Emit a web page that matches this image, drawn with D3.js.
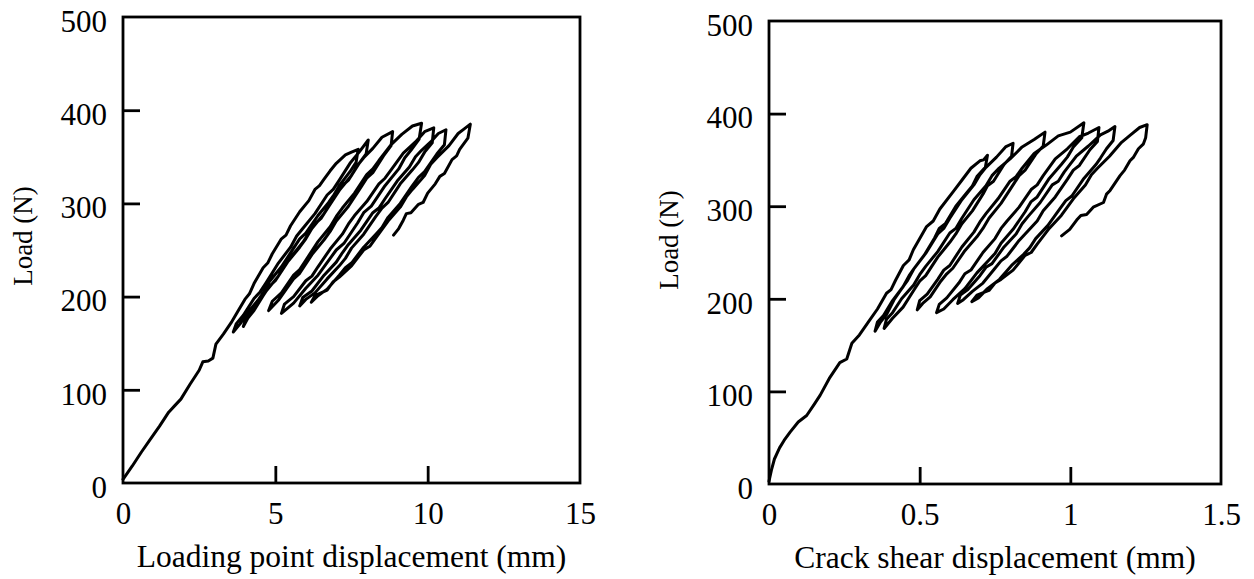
<!DOCTYPE html>
<html>
<head>
<meta charset="utf-8">
<script src="https://cdn.jsdelivr.net/npm/d3@7"></script>
<style>
  html, body { margin: 0; padding: 0; background: #fff; }
  svg { display: block; }
  text { font-family: "Liberation Serif", "Times New Roman", serif; fill: #000; }
</style>
</head>
<body>
<svg id="chart" width="1254" height="579"></svg>
<script>
// ---------------- DATA ----------------
// Tick labels
const loadTicks = [0, 100, 200, 300, 400, 500];
const lpdTicks = [0, 5, 10, 15];
const csdTicks = [0, 0.5, 1, 1.5];
const csdTickLabels = ["0", "0.5", "1", "1.5"];

// Left panel: Load (N) vs loading point displacement (mm), branch by branch
const lpdInitial = [[0,4],[0.3,18],[0.6,33],[0.9,47],[1.2,61],[1.5,76],[1.7,83],[1.9,90],[2.2,106],[2.5,121],[2.62,130],[2.8,131],[2.95,134],[3.05,149],[3.3,160],[3.55,172],[3.8,186],[4.0,197],[4.15,203],[4.3,214],[4.6,231],[4.75,236],[4.9,246],[5.2,262],[5.35,266],[5.5,276],[5.8,291],[6.1,303],[6.3,315],[6.45,319],[6.6,326],[6.8,335],[7.0,343],[7.3,352],[7.5,355],[7.72,358]];
const lpdUnload1 = [[7.72,358],[7.65,344],[7.45,334],[7.1,319],[6.9,308],[6.75,301],[6.4,287],[6.0,268],[5.8,262],[5.6,252],[5.2,232],[4.8,216],[4.6,204],[4.45,197],[4.1,183],[3.85,171],[3.62,162]];
const lpdLoad2 = [[3.62,162],[3.72,171],[3.95,180],[4.3,198],[4.5,205],[4.7,215],[5.1,236],[5.5,253],[5.7,265],[5.9,273],[6.3,289],[6.7,309],[6.9,315],[7.1,325],[7.45,343],[7.75,355],[8.05,368]];
const lpdUnload2 = [[8.05,368],[7.98,353],[7.75,343],[7.4,325],[7.2,319],[7.0,309],[6.6,289],[6.2,273],[6.0,262],[5.8,253],[5.4,237],[5.0,217],[4.8,211],[4.6,201],[4.3,185],[4.1,177],[3.95,168]];
const lpdLoad3 = [[3.95,168],[4.05,178],[4.3,187],[4.7,206],[5.1,222],[5.3,234],[5.5,242],[5.9,258],[6.3,278],[6.5,284],[6.7,294],[7.1,314],[7.5,330],[7.7,341],[7.9,349],[8.2,359],[8.5,371],[8.85,377]];
const lpdUnload3 = [[8.85,377],[8.8,362],[8.55,351],[8.2,333],[8.0,327],[7.8,317],[7.4,297],[7.0,281],[6.8,270],[6.6,261],[6.2,245],[5.8,225],[5.6,219],[5.4,210],[5.1,196],[4.78,185]];
const lpdLoad4 = [[4.78,185],[4.9,195],[5.2,204],[5.6,223],[5.8,229],[6.0,239],[6.4,259],[6.8,275],[7.0,286],[7.2,295],[7.6,311],[8.0,331],[8.2,337],[8.4,346],[8.8,363],[9.15,374],[9.5,383],[9.8,386]];
const lpdUnload4 = [[9.8,386],[9.72,369],[9.45,357],[9.25,349],[9.05,337],[8.6,319],[8.15,297],[7.9,290],[7.7,279],[7.25,257],[7.0,250],[6.8,241],[6.4,223],[6.0,209],[5.6,193],[5.2,182]];
const lpdLoad5 = [[5.2,182],[5.3,192],[5.6,200],[6.0,217],[6.2,222],[6.4,232],[6.8,251],[7.2,267],[7.4,278],[7.6,287],[8.0,302],[8.4,321],[8.6,327],[8.8,336],[9.2,354],[9.6,366],[9.9,377],[10.2,381]];
const lpdUnload5 = [[10.2,381],[10.15,365],[9.9,355],[9.7,344],[9.5,336],[9.1,321],[8.7,301],[8.5,295],[8.3,286],[7.9,267],[7.5,252],[7.3,241],[7.1,233],[6.7,219],[6.3,204],[6.0,197],[5.8,190]];
const lpdLoad6 = [[5.8,190],[5.9,199],[6.2,206],[6.6,223],[7.0,237],[7.2,247],[7.4,256],[7.8,271],[8.2,290],[8.4,295],[8.6,305],[9.0,324],[9.4,339],[9.6,350],[9.8,357],[10.1,366],[10.35,375],[10.6,379]];
const lpdUnload6 = [[10.6,379],[10.55,363],[10.3,353],[9.9,334],[9.7,328],[9.5,319],[9.1,300],[8.7,285],[8.5,274],[8.3,267],[7.9,253],[7.5,236],[7.3,231],[7.1,223],[6.7,208],[6.4,201],[6.18,194]];
const lpdLoad7 = [[6.18,194],[6.3,201],[6.7,207],[6.9,216],[7.1,221],[7.5,233],[7.9,250],[8.1,254],[8.3,263],[8.7,281],[9.1,296],[9.3,307],[9.5,315],[9.9,330],[10.1,342],[10.3,349],[10.7,362],[11.0,375],[11.2,380],[11.4,385]];
const lpdUnload7 = [[11.4,385],[11.32,370],[11.05,358],[10.95,351],[10.8,347],[10.55,332],[10.4,329],[10.25,321],[10.0,311],[9.85,301],[9.7,299],[9.45,290],[9.3,289],[9.2,282],[9.05,273],[8.88,266]];

// Right panel: Load (N) vs crack shear displacement (mm)
const csdInitial = [[0,3],[0.008,15],[0.018,27],[0.035,39],[0.05,47],[0.07,56],[0.097,67],[0.125,74],[0.15,86],[0.17,96],[0.2,114],[0.235,131],[0.258,135],[0.275,152],[0.3,161],[0.33,175],[0.36,189],[0.39,206],[0.405,210],[0.42,220],[0.446,236],[0.465,242],[0.479,253],[0.523,278],[0.545,284],[0.567,297],[0.612,316],[0.64,328],[0.67,341],[0.7,349],[0.712,350],[0.725,355]];
const csdUnload1 = [[0.725,355],[0.718,342],[0.69,332],[0.675,322],[0.655,314],[0.62,300],[0.585,281],[0.565,276],[0.55,266],[0.515,247],[0.48,232],[0.46,220],[0.445,213],[0.415,199],[0.39,183],[0.37,175],[0.352,165]];
const csdLoad2 = [[0.352,165],[0.36,175],[0.38,182],[0.41,198],[0.445,213],[0.465,225],[0.48,232],[0.52,249],[0.56,270],[0.58,276],[0.6,287],[0.64,307],[0.68,323],[0.7,334],[0.72,342],[0.755,353],[0.785,364],[0.81,368]];
const csdUnload2 = [[0.81,368],[0.805,354],[0.78,345],[0.745,327],[0.725,322],[0.71,313],[0.675,295],[0.64,281],[0.62,270],[0.6,261],[0.56,245],[0.52,225],[0.5,219],[0.48,209],[0.445,191],[0.41,179],[0.382,168]];
const csdLoad3 = [[0.382,168],[0.39,178],[0.41,185],[0.44,200],[0.48,215],[0.5,226],[0.52,235],[0.56,251],[0.6,271],[0.62,276],[0.64,287],[0.68,307],[0.72,322],[0.74,333],[0.76,340],[0.8,351],[0.84,364],[0.88,372],[0.916,380]];
const csdUnload3 = [[0.916,380],[0.91,365],[0.885,356],[0.85,339],[0.83,333],[0.81,323],[0.77,303],[0.73,287],[0.71,276],[0.69,267],[0.65,252],[0.61,233],[0.59,227],[0.57,219],[0.535,202],[0.51,195],[0.492,188]];
const csdLoad4 = [[0.492,188],[0.5,198],[0.525,205],[0.56,221],[0.58,231],[0.6,236],[0.64,256],[0.68,272],[0.7,283],[0.72,292],[0.76,308],[0.8,327],[0.82,332],[0.84,341],[0.88,357],[0.92,366],[0.96,376],[1.0,380],[1.045,390]];
const csdUnload4 = [[1.045,390],[1.038,374],[1.01,364],[0.99,353],[0.97,345],[0.93,330],[0.89,310],[0.87,305],[0.85,294],[0.81,275],[0.77,260],[0.75,249],[0.73,242],[0.69,228],[0.65,211],[0.61,199],[0.58,189],[0.556,185]];
const csdLoad5 = [[0.556,185],[0.565,194],[0.59,201],[0.63,217],[0.65,227],[0.67,231],[0.71,250],[0.75,265],[0.77,276],[0.79,284],[0.83,299],[0.87,318],[0.89,323],[0.91,333],[0.95,351],[0.99,362],[1.03,375],[1.06,379],[1.095,385]];
const csdUnload5 = [[1.095,385],[1.09,370],[1.065,361],[1.03,344],[1.01,339],[0.99,329],[0.95,310],[0.91,295],[0.89,284],[0.87,277],[0.83,263],[0.79,246],[0.77,241],[0.75,233],[0.71,217],[0.675,208],[0.645,199],[0.626,195]];
const csdLoad6 = [[0.626,195],[0.635,204],[0.66,210],[0.7,225],[0.72,234],[0.74,238],[0.78,256],[0.82,270],[0.84,281],[0.86,289],[0.9,304],[0.94,323],[0.96,327],[0.98,337],[1.02,354],[1.06,365],[1.1,377],[1.125,381],[1.148,386]];
const csdUnload6 = [[1.148,386],[1.142,371],[1.12,362],[1.1,352],[1.085,345],[1.045,330],[1.005,311],[0.985,306],[0.965,297],[0.925,279],[0.885,265],[0.865,255],[0.845,248],[0.805,236],[0.765,221],[0.725,211],[0.695,201],[0.673,197]];
const csdLoad7 = [[0.673,197],[0.69,204],[0.73,209],[0.75,217],[0.77,221],[0.81,231],[0.85,247],[0.87,250],[0.89,259],[0.93,276],[0.97,290],[0.99,299],[1.01,308],[1.05,323],[1.07,334],[1.09,341],[1.13,354],[1.17,369],[1.2,377],[1.23,385],[1.255,388]];
const csdUnload7 = [[1.255,388],[1.25,374],[1.242,367],[1.226,362],[1.21,353],[1.198,349],[1.18,339],[1.165,333],[1.132,317],[1.12,313],[1.11,304],[1.076,299],[1.054,291],[1.035,290],[1.021,285],[0.998,275],[0.971,268]];

const lpdBranches = [lpdInitial, lpdUnload1, lpdLoad2, lpdUnload2, lpdLoad3, lpdUnload3, lpdLoad4, lpdUnload4, lpdLoad5, lpdUnload5, lpdLoad6, lpdUnload6, lpdLoad7, lpdUnload7];
const csdBranches = [csdInitial, csdUnload1, csdLoad2, csdUnload2, csdLoad3, csdUnload3, csdLoad4, csdUnload4, csdLoad5, csdUnload5, csdLoad6, csdUnload6, csdLoad7, csdUnload7];

// ---------------- DRAWING ----------------
const svg = d3.select("#chart");

function panel(cfg) {
  const x = d3.scaleLinear().domain(cfg.xDomain).range([cfg.left, cfg.right]);
  const y = d3.scaleLinear().domain([0, 500]).range([cfg.bottom, cfg.top]);
  const g = svg.append("g");

  // curve (one continuous path through all branches)
  const pts = [].concat(...cfg.branches);
  const line = d3.line().x(d => x(d[0])).y(d => y(d[1]));
  g.append("path").datum(pts)
    .attr("d", line)
    .attr("fill", "none")
    .attr("stroke", "#000")
    .attr("stroke-width", 3)
    .attr("stroke-linejoin", "round")
    .attr("stroke-linecap", "round");

  // inward ticks
  const yTickAxis = d3.axisLeft(y).tickValues([100, 200, 300, 400]).tickSize(-17).tickFormat("");
  g.append("g").attr("transform", `translate(${cfg.left},0)`).call(yTickAxis)
    .call(s => s.select(".domain").remove())
    .call(s => s.selectAll("line").attr("stroke", "#000").attr("stroke-width", 2.8));
  const xTickAxis = d3.axisBottom(x).tickValues(cfg.xInner).tickSize(-17).tickFormat("");
  g.append("g").attr("transform", `translate(0,${cfg.bottom})`).call(xTickAxis)
    .call(s => s.select(".domain").remove())
    .call(s => s.selectAll("line").attr("stroke", "#000").attr("stroke-width", 2.8));

  // labels
  const yLabAxis = d3.axisLeft(y).tickValues(loadTicks).tickSize(0).tickPadding(16).tickFormat(d3.format("d"));
  g.append("g").attr("transform", `translate(${cfg.left},0)`).call(yLabAxis)
    .call(s => s.select(".domain").remove())
    .call(s => s.selectAll("text").attr("font-size", 31).attr("dy", "0.46em")
      .attr("font-family", "'Liberation Serif', 'Times New Roman', serif").attr("fill", "#000"));
  const xLabAxis = d3.axisBottom(x).tickValues(cfg.xTicks).tickSize(0).tickPadding(19)
    .tickFormat((d, i) => cfg.xLabels[i]);
  g.append("g").attr("transform", `translate(0,${cfg.bottom})`).call(xLabAxis)
    .call(s => s.select(".domain").remove())
    .call(s => s.selectAll("text").attr("font-size", 31)
      .attr("font-family", "'Liberation Serif', 'Times New Roman', serif").attr("fill", "#000"));

  // frame
  g.append("rect")
    .attr("x", cfg.left).attr("y", cfg.top)
    .attr("width", cfg.right - cfg.left).attr("height", cfg.bottom - cfg.top)
    .attr("fill", "none").attr("stroke", "#000").attr("stroke-width", 2.8);

  // titles
  g.append("text")
    .attr("x", (cfg.left + cfg.right) / 2).attr("y", cfg.bottom + 84)
    .attr("text-anchor", "middle").attr("font-size", 31.5)
    .text(cfg.xTitle);
  g.append("text")
    .attr("transform", `translate(${cfg.left - 91},${cfg.yTitleY}) rotate(-90)`)
    .attr("text-anchor", "middle").attr("font-size", 27)
    .text("Load (N)");
}

panel({
  left: 123, right: 580, top: 17, bottom: 483,
  xDomain: [0, 15], xTicks: lpdTicks, xLabels: lpdTicks.map(String), xInner: [5, 10],
  branches: lpdBranches, xTitle: "Loading point displacement (mm)", yTitleY: 236
});
panel({
  left: 769, right: 1221, top: 21, bottom: 484,
  xDomain: [0, 1.5], xTicks: csdTicks, xLabels: csdTickLabels, xInner: [0.5, 1],
  branches: csdBranches, xTitle: "Crack shear displacement (mm)", yTitleY: 240
});
</script>
</body>
</html>
